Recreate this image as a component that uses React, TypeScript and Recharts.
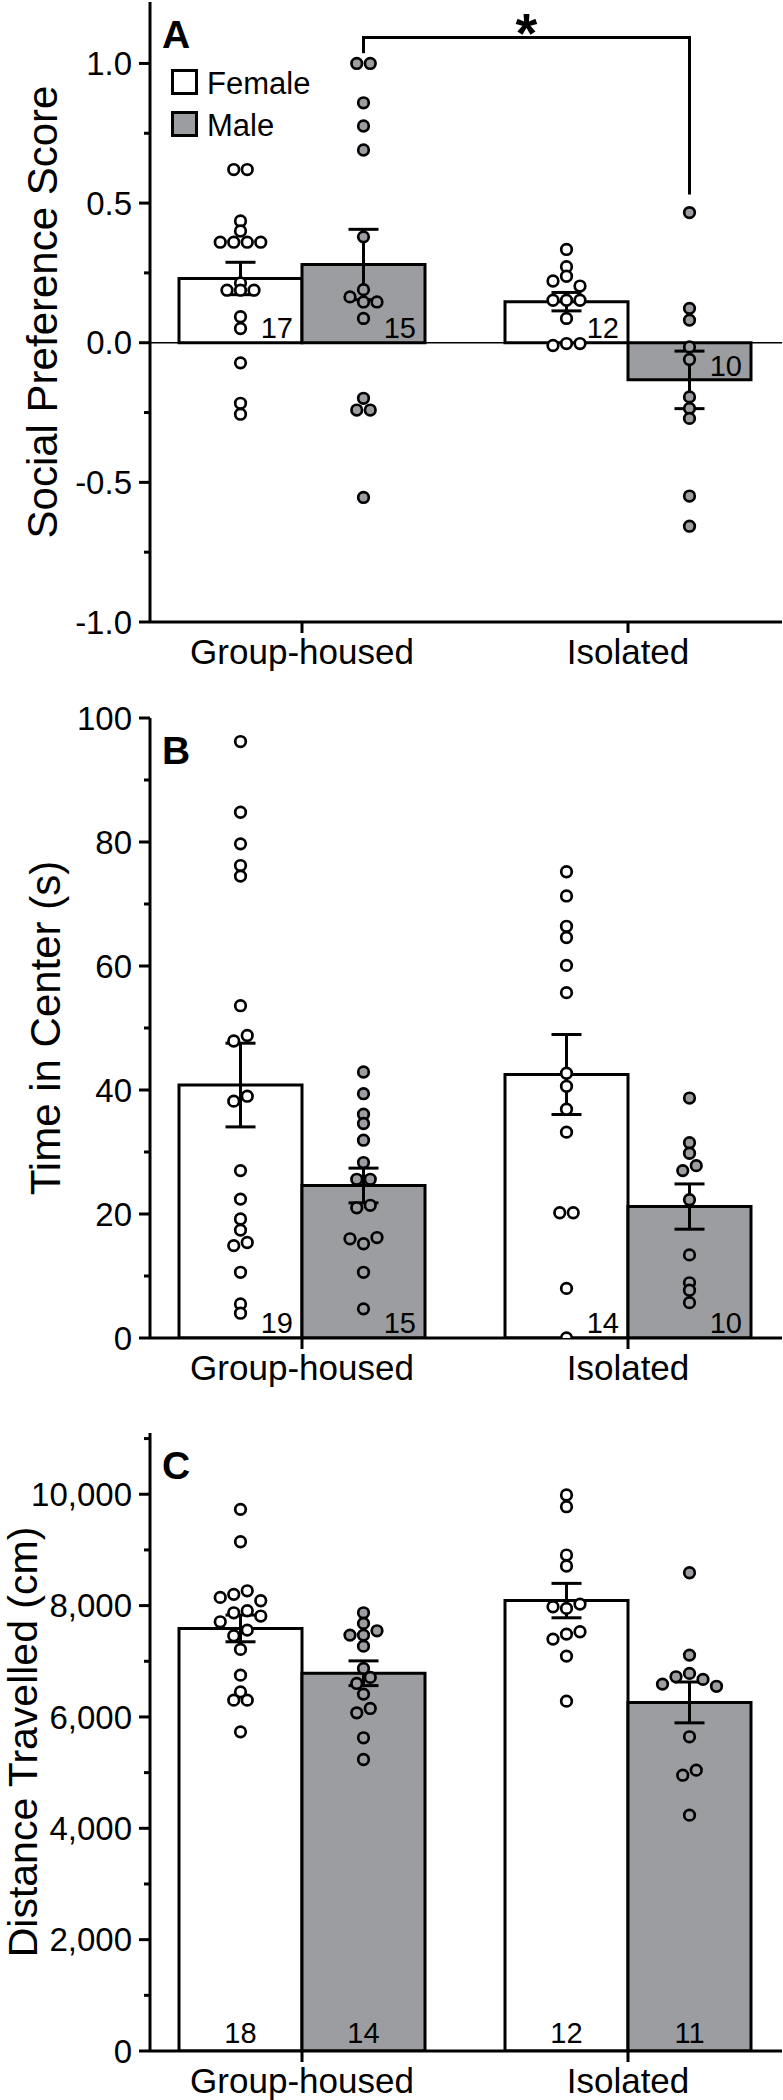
import {
  Bar,
  ComposedChart,
  ErrorBar,
  LabelList,
  Legend,
  ReferenceLine,
  Scatter,
  XAxis,
  YAxis,
} from "recharts";

const groups = ["Group-housed", "Isolated"];

// A – social preference score
const socialFemaleMean = [0.23, 0.147];
const socialMaleMean = [0.28, -0.133];
const socialFemaleSem = [0.058, 0.033];
const socialMaleSem = [0.126, 0.103];
const socialFemaleN = [17, 12];
const socialMaleN = [15, 10];
const socialFemaleGrouped = [0.62, 0.62, 0.436, 0.4, 0.36, 0.36, 0.36, 0.36, 0.214, 0.188, 0.188, 0.188, 0.093, 0.051, -0.072, -0.217, -0.256];
const socialFemaleIsolated = [0.334, 0.272, 0.221, 0.238, 0.203, 0.152, 0.152, 0.152, 0.087, -0.01, -0.003, -0.003];
const socialMaleGrouped = [1.0, 1.0, 0.859, 0.776, 0.69, 0.379, 0.19, 0.164, 0.146, 0.146, 0.087, -0.199, -0.241, -0.241, -0.554];
const socialMaleIsolated = [0.466, 0.123, 0.081, -0.015, -0.06, -0.194, -0.235, -0.271, -0.549, -0.657];
const socialTicks = [-1, -0.5, 0, 0.5, 1];
const socialMinorTicks = [-0.75, -0.25, 0.25, 0.75];

// B – time in center (s)
const timeFemaleMean = [40.8, 42.5];
const timeMaleMean = [24.6, 21.2];
const timeFemaleSem = [6.75, 6.45];
const timeMaleSem = [2.8, 3.65];
const timeFemaleN = [19, 14];
const timeMaleN = [15, 10];
const timeFemaleGrouped = [96.2, 84.8, 79.7, 76.2, 74.5, 53.6, 47.9, 48.8, 38.2, 39.0, 27.0, 22.4, 19.2, 17.4, 14.9, 15.4, 10.6, 5.5, 4.0];
const timeFemaleIsolated = [75.2, 71.3, 66.4, 64.6, 60.1, 55.7, 42.7, 40.6, 36.9, 33.2, 20.2, 20.2, 8.0, 0];
const timeMaleGrouped = [42.9, 39.4, 36.1, 34.6, 31.9, 28.3, 25.6, 25.6, 21.0, 21.4, 16.0, 15.2, 16.2, 10.6, 4.7];
const timeMaleIsolated = [38.7, 31.5, 29.8, 27.0, 27.8, 22.3, 13.4, 8.9, 7.7, 5.7];
const timeTicks = [0, 20, 40, 60, 80, 100];
const timeMinorTicks = [10, 30, 50, 70, 90];

// C – distance travelled (cm)
const distFemaleMean = [7590, 8090];
const distMaleMean = [6785, 6261];
const distFemaleSem = [240, 309];
const distMaleSem = [222, 367];
const distFemaleN = [18, 12];
const distMaleN = [14, 11];
const distFemaleGrouped = [9729, 9147, 8147, 8202, 8266, 8087, 7709, 7871, 7907, 7812, 7458, 7560, 7213, 6751, 6451, 6302, 6302, 5732];
const distFemaleIsolated = [9986, 9776, 8908, 8710, 7979, 7950, 8027, 7398, 7488, 7530, 7093, 6284];
const distMaleGrouped = [7871, 7680, 7470, 7470, 7547, 7272, 6872, 6602, 6710, 6410, 6074, 6153, 5625, 5236];
const distMaleIsolated = [8590, 7111, 6590, 6721, 6782, 6674, 6550, 5643, 4954, 5044, 4236];
const distTicks = [0, 2000, 4000, 6000, 8000, 10000];
const distMinorTicks = [1000, 3000, 5000, 7000, 9000, 11000];

const legendItems = [
  { name: "Female", fill: "#ffffff" },
  { name: "Male", fill: "#9c9da0" },
];

const FONT = '"Liberation Sans", Arial, Helvetica, sans-serif';
const GRAY = "#9c9da0";
const W = 783;
const AXIS_W = 150;
const RIGHT = 1;
const PAD = { left: -11, right: -9 };
const BAND = (W - AXIS_W - RIGHT - PAD.left - PAD.right) / 2;
const BAR_SIZE = 123;
const DOT_STEP = 13.5;
const ROW_TOL = 6.5;

type Panel = {
  letter: string;
  title: string;
  top: number;
  marginTop: number;
  plotH: number;
  xAxisH: number;
  titleX: number;
  titleSize: number;
  domain: [number, number];
  ticks: number[];
  minorTicks: number[];
  fmt: (v: number) => string;
  femaleMean: number[];
  maleMean: number[];
  femaleSem: number[];
  maleSem: number[];
  femaleN: number[];
  maleN: number[];
  femalePoints: number[][];
  malePoints: number[][];
  nPlacement: "corner" | "center";
  zeroLine?: boolean;
  legend?: boolean;
  bracket?: { top: number; leftEnd: number; rightEnd: number; text: string };
};

const panels: Panel[] = [
  {
    letter: "A",
    title: "Social Preference Score",
    top: 0,
    marginTop: 2,
    plotH: 620,
    xAxisH: 68,
    titleX: 57,
    titleSize: 42,
    domain: [-1, 1.22],
    ticks: socialTicks,
    minorTicks: socialMinorTicks,
    fmt: (v) => v.toFixed(1),
    femaleMean: socialFemaleMean,
    maleMean: socialMaleMean,
    femaleSem: socialFemaleSem,
    maleSem: socialMaleSem,
    femaleN: socialFemaleN,
    maleN: socialMaleN,
    femalePoints: [socialFemaleGrouped, socialFemaleIsolated],
    malePoints: [socialMaleGrouped, socialMaleIsolated],
    nPlacement: "corner",
    zeroLine: true,
    legend: true,
    bracket: { top: 1.093, leftEnd: 1.042, rightEnd: 0.536, text: "*" },
  },
  {
    letter: "B",
    title: "Time in Center (s)",
    top: 690,
    marginTop: 28,
    plotH: 620,
    xAxisH: 62,
    titleX: 60,
    titleSize: 42,
    domain: [0, 100],
    ticks: timeTicks,
    minorTicks: timeMinorTicks,
    fmt: (v) => String(v),
    femaleMean: timeFemaleMean,
    maleMean: timeMaleMean,
    femaleSem: timeFemaleSem,
    maleSem: timeMaleSem,
    femaleN: timeFemaleN,
    maleN: timeMaleN,
    femalePoints: [timeFemaleGrouped, timeFemaleIsolated],
    malePoints: [timeMaleGrouped, timeMaleIsolated],
    nPlacement: "corner",
  },
  {
    letter: "C",
    title: "Distance Travelled (cm)",
    top: 1400,
    marginTop: 33,
    plotH: 618,
    xAxisH: 49,
    titleX: 37,
    titleSize: 41,
    domain: [0, 11100],
    ticks: distTicks,
    minorTicks: distMinorTicks,
    fmt: (v) => v.toLocaleString("en-US"),
    femaleMean: distFemaleMean,
    maleMean: distMaleMean,
    femaleSem: distFemaleSem,
    maleSem: distMaleSem,
    femaleN: distFemaleN,
    maleN: distMaleN,
    femalePoints: [distFemaleGrouped, distFemaleIsolated],
    malePoints: [distMaleGrouped, distMaleIsolated],
    nPlacement: "center",
  },
];

// points lying within a few pixels of each other share a row and are spread out around the column centre
function swarmOffsets(values: number[], pxPerUnit: number) {
  const order = values.map((_, i) => i).sort((a, b) => values[b] - values[a] || a - b);
  const offsets = values.map(() => 0);
  let row: number[] = [];
  const flush = () => {
    const cols = [...row].sort((a, b) => a - b);
    cols.forEach((idx, k) => {
      offsets[idx] = (k - (cols.length - 1) / 2) * DOT_STEP;
    });
    row = [];
  };
  for (const idx of order) {
    const prev = row[row.length - 1];
    if (prev !== undefined && (values[prev] - values[idx]) * pxPerUnit > ROW_TOL) flush();
    row.push(idx);
  }
  flush();
  return offsets;
}

function buildDots(pointsByGroup: number[][], side: number, pxPerUnit: number) {
  return pointsByGroup.flatMap((values, i) => {
    const offsets = swarmOffsets(values, pxPerUnit);
    return values.map((v, k) => ({ x: i + 0.5, y: v, dx: (side * BAR_SIZE) / 2 + offsets[k] }));
  });
}

const dotShape = (fill: string) => (props: any) => {
  const { cx, cy, payload } = props;
  if (cx == null || cy == null) return <g />;
  return <circle cx={cx + (payload?.dx ?? 0)} cy={cy} r={5.3} fill={fill} stroke="#000" strokeWidth={2.7} />;
};

const makeYTick = (major: number[], fmt: (v: number) => string) => (props: any) => {
  const { x, y, payload } = props;
  const isMajor = major.includes(payload.value);
  return (
    <g>
      <line x1={x - (isMajor ? 11 : 6)} x2={x} y1={y} y2={y} stroke="#000" strokeWidth={3} />
      {isMajor && (
        <text x={x - 18} y={y} dy="0.355em" textAnchor="end" fontSize={33} fill="#000">
          {fmt(payload.value)}
        </text>
      )}
    </g>
  );
};

const makeNLabel = (means: number[], placement: "corner" | "center") => (props: any) => {
  const box = props.viewBox && props.viewBox.width != null ? props.viewBox : props;
  const x = Number(box.x);
  const y = Number(box.y);
  const w = Number(box.width);
  const h = Number(box.height);
  const top = Math.min(y, y + h);
  const bottom = Math.max(y, y + h);
  const negative = means[props.index] < 0;
  if (placement === "center") {
    return (
      <text x={x + w / 2} y={bottom - 8} textAnchor="middle" fontSize={29} fill="#000">
        {props.value}
      </text>
    );
  }
  return (
    <text x={x + w - 9} y={negative ? top + 33 : bottom - 5} textAnchor="end" fontSize={29} fill="#000">
      {props.value}
    </text>
  );
};

// y-axis title plus the bold panel letter in the top-left corner of the frame
function AxisTitle({ panel }: { panel: Panel }) {
  const cy = panel.marginTop + panel.plotH / 2;
  return (
    <g>
      <text
        x={panel.titleX}
        y={cy}
        transform={`rotate(-90, ${panel.titleX}, ${cy})`}
        textAnchor="middle"
        fontSize={panel.titleSize}
        fill="#000"
      >
        {panel.title}
      </text>
      <text x={162} y={panel.marginTop + 46} fontSize={39} fontWeight="bold" fill="#000">
        {panel.letter}
      </text>
    </g>
  );
}

function SexLegend() {
  return (
    <div style={{ fontFamily: FONT }}>
      {legendItems.map((item) => (
        <div key={item.name} style={{ display: "flex", alignItems: "center", height: 26, marginBottom: 16 }}>
          <span
            style={{
              display: "inline-block",
              width: 27,
              height: 26,
              boxSizing: "border-box",
              border: "3px solid #000",
              background: item.fill,
            }}
          />
          <span style={{ marginLeft: 9, fontSize: 31, lineHeight: "26px", color: "#000", position: "relative", top: 2 }}>
            {item.name}
          </span>
        </div>
      ))}
    </div>
  );
}

function PanelChart({ panel }: { panel: Panel }) {
  const height = panel.marginTop + panel.plotH + panel.xAxisH;
  const pxPerUnit = panel.plotH / (panel.domain[1] - panel.domain[0]);
  const rows = groups.map((group, i) => ({
    group,
    female: panel.femaleMean[i],
    male: panel.maleMean[i],
    femaleSem: panel.femaleSem[i],
    maleSem: panel.maleSem[i],
    femaleN: panel.femaleN[i],
    maleN: panel.maleN[i],
  }));
  const femaleDots = buildDots(panel.femalePoints, -1, pxPerUnit);
  const maleDots = buildDots(panel.malePoints, 1, pxPerUnit);
  const allTicks = [...panel.ticks, ...panel.minorTicks].sort((a, b) => a - b);
  const maleShift = BAR_SIZE / 2 / BAND;
  const b = panel.bracket;

  return (
    <div style={{ position: "absolute", left: 0, top: panel.top }}>
      <ComposedChart
        width={W}
        height={height}
        data={rows}
        barGap={0}
        margin={{ top: panel.marginTop, right: RIGHT, bottom: 0, left: 0 }}
      >
        <XAxis
          dataKey="group"
          height={panel.xAxisH}
          padding={PAD}
          interval={0}
          tickSize={11}
          tickMargin={6}
          tickLine={{ stroke: "#000", strokeWidth: 3 }}
          axisLine={{ stroke: "#000", strokeWidth: 3 }}
          tick={{ fill: "#000", fontSize: 35 }}
        />
        <XAxis xAxisId="num" dataKey="x" type="number" domain={[0, 2]} padding={PAD} hide allowDataOverflow />
        <XAxis
          xAxisId="frame"
          orientation="top"
          type="number"
          domain={[0, 1]}
          height={0}
          tick={false}
          tickLine={false}
          axisLine={{ stroke: "#000", strokeWidth: 3 }}
        />
        <YAxis
          type="number"
          domain={panel.domain}
          ticks={allTicks}
          interval={0}
          allowDataOverflow
          width={AXIS_W}
          tickSize={0}
          tickMargin={0}
          tickLine={false}
          axisLine={{ stroke: "#000", strokeWidth: 3 }}
          tick={makeYTick(panel.ticks, panel.fmt)}
          label={<AxisTitle panel={panel} />}
        />
        <YAxis
          yAxisId="frame"
          orientation="right"
          type="number"
          domain={[0, 1]}
          width={0}
          tick={false}
          tickLine={false}
          axisLine={{ stroke: "#000", strokeWidth: 3 }}
        />
        {panel.zeroLine && <ReferenceLine y={0} stroke="#000" strokeWidth={1.5} />}
        <Bar dataKey="female" name="Female" barSize={BAR_SIZE} fill="#fff" stroke="#000" strokeWidth={3} isAnimationActive={false}>
          <ErrorBar dataKey="femaleSem" width={15} stroke="#000" strokeWidth={3} />
          <LabelList dataKey="femaleN" content={makeNLabel(panel.femaleMean, panel.nPlacement)} />
        </Bar>
        <Bar dataKey="male" name="Male" barSize={BAR_SIZE} fill={GRAY} stroke="#000" strokeWidth={3} isAnimationActive={false}>
          <ErrorBar dataKey="maleSem" width={15} stroke="#000" strokeWidth={3} />
          <LabelList dataKey="maleN" content={makeNLabel(panel.maleMean, panel.nPlacement)} />
        </Bar>
        <Scatter xAxisId="num" data={femaleDots} dataKey="y" shape={dotShape("#fff")} isAnimationActive={false} />
        <Scatter xAxisId="num" data={maleDots} dataKey="y" shape={dotShape(GRAY)} isAnimationActive={false} />
        {b && (
          <ReferenceLine
            xAxisId="num"
            segment={[{ x: 0.5 + maleShift, y: b.leftEnd }, { x: 0.5 + maleShift, y: b.top }]}
            stroke="#000"
            strokeWidth={3}
            strokeLinecap="square"
            ifOverflow="visible"
          />
        )}
        {b && (
          <ReferenceLine
            xAxisId="num"
            segment={[{ x: 0.5 + maleShift, y: b.top }, { x: 1.5 + maleShift, y: b.top }]}
            stroke="#000"
            strokeWidth={3}
            strokeLinecap="square"
            ifOverflow="visible"
            label={(props: any) => {
              const vb = props.viewBox ?? props;
              return (
                <text x={vb.x + vb.width / 2} y={vb.y + 15} textAnchor="middle" fontSize={56} fontWeight="bold" fill="#000">
                  {b.text}
                </text>
              );
            }}
          />
        )}
        {b && (
          <ReferenceLine
            xAxisId="num"
            segment={[{ x: 1.5 + maleShift, y: b.top }, { x: 1.5 + maleShift, y: b.rightEnd }]}
            stroke="#000"
            strokeWidth={3}
            strokeLinecap="square"
            ifOverflow="visible"
          />
        )}
        {panel.legend && (
          <Legend
            layout="horizontal"
            verticalAlign="middle"
            align="center"
            wrapperStyle={{ position: "absolute", left: 171, top: 69, width: 220, height: "auto", margin: 0 }}
            content={() => <SexLegend />}
          />
        )}
      </ComposedChart>
    </div>
  );
}

export default function App() {
  return (
    <div
      style={{
        position: "absolute",
        left: 0,
        top: 0,
        width: W,
        height: 2100,
        background: "#fff",
        fontFamily: FONT,
        overflow: "hidden",
      }}
    >
      {panels.map((p) => (
        <PanelChart key={p.letter} panel={p} />
      ))}
    </div>
  );
}
